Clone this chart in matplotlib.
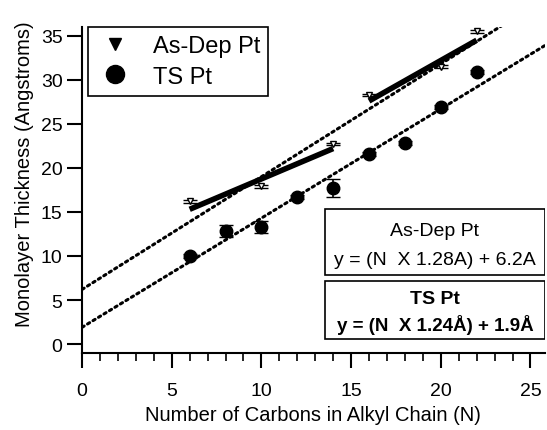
import matplotlib
matplotlib.use("Agg")
import matplotlib.pyplot as plt
from matplotlib.ticker import MultipleLocator
from matplotlib.lines import Line2D
from matplotlib.patches import Rectangle
import numpy as np

plt.rcParams['font.family'] = ['Liberation Sans', 'DejaVu Sans']

# дані з рисунка
n_asdep = [6, 10, 14, 16, 20, 22]
t_asdep = [16.2, 17.9, 22.7, 28.3, 31.5, 35.5]

n_ts = [6, 8, 10, 12, 14, 16, 18, 20, 22]
t_ts = [10.0, 12.8, 13.3, 16.7, 17.7, 21.6, 22.8, 26.9, 30.9]
err_ts = [0.2, 0.7, 0.7, 0.2, 1.0, 0.2, 0.2, 0.2, 0.2]

# товсті відрізки
seg1_n = [6, 14]
seg1_t = [15.3, 22.2]
seg2_n = [16, 22]
seg2_t = [27.6, 34.5]

# лінії апроксимації
fit_asdep = (1.28, 6.2, 23.4)  # нахил, зсув, кінець
fit_ts = (1.24, 1.9, 26.0)

fig = plt.figure(figsize=(5.47, 4.31), dpi=100)
ax = fig.add_axes([0.150, 0.179, 0.846, 0.756])

for k, b, end in (fit_asdep, fit_ts):
    xx = np.array([0, end])
    ax.plot(xx, k * xx + b, color="black", lw=2.2, ls=(0, (0.8, 1.3)),
            dash_capstyle="round", zorder=2)

ax.plot(seg1_n, seg1_t, color="black", lw=4, solid_capstyle="butt", zorder=3)
ax.plot(seg2_n, seg2_t, color="black", lw=4, solid_capstyle="butt", zorder=3)

ax.errorbar(n_asdep, t_asdep, yerr=0.15, fmt="v", color="black", mfc="white",
            mec="black", ms=4, capsize=5, lw=1, zorder=4)
ax.errorbar(n_ts, t_ts, yerr=err_ts, fmt="o", color="black", ms=9,
            capsize=5, lw=1.2, zorder=4)

ax.set_xlim(0, 25.8)
ax.set_ylim(-1, 36)
ax.spines["top"].set_visible(False)
ax.spines["right"].set_visible(False)
ax.spines["left"].set_linewidth(1.5)
ax.spines["bottom"].set_linewidth(1.5)
ax.xaxis.set_major_locator(MultipleLocator(5))
ax.xaxis.set_minor_locator(MultipleLocator(1))
ax.yaxis.set_major_locator(MultipleLocator(5))
ax.tick_params(axis="both", which="major", direction="out", width=1.5, labelsize=14)
ax.tick_params(axis="y", which="major", length=11, pad=3)
ax.tick_params(axis="x", which="major", length=11, pad=10)
ax.tick_params(axis="x", which="minor", direction="out", length=6, width=1.2)

ax.set_xlabel("Number of Carbons in Alkyl Chain (N)", fontsize=14.5, labelpad=4)
ax.set_ylabel("Monolayer Thickness (Angstroms)", fontsize=14.5)
ax.yaxis.set_label_coords(-0.104, 0.55)

h = [Line2D([], [], ls="none", marker="v", color="black", ms=9),
     Line2D([], [], ls="none", marker="o", color="black", ms=13)]
leg = ax.legend(h, ["As-Dep Pt", "TS Pt"], loc="upper left",
                bbox_to_anchor=(0.012, 1.0), borderaxespad=0, fontsize=17,
                frameon=True, fancybox=False, edgecolor="black", framealpha=1,
                handletextpad=0.8, borderpad=0.35, labelspacing=0.35,
                handlelength=1.6)
leg.get_frame().set_linewidth(1.2)

# рамки з рівняннями
ax.add_patch(Rectangle((0.525, 0.239), 0.475, 0.203, transform=ax.transAxes,
                       fc="white", ec="black", lw=1.2, zorder=5))
ax.add_patch(Rectangle((0.525, 0.043), 0.475, 0.178, transform=ax.transAxes,
                       fc="white", ec="black", lw=1.2, zorder=5))
ax.text(0.7625, 0.374, "As-Dep Pt", transform=ax.transAxes, ha="center",
        va="center", fontsize=14, zorder=6)
ax.text(0.7625, 0.288, "y = (N  X 1.28A) + 6.2A", transform=ax.transAxes,
        ha="center", va="center", fontsize=14, zorder=6)
ax.text(0.7625, 0.166, "TS Pt", transform=ax.transAxes, ha="center",
        va="center", fontsize=14, fontweight="bold", zorder=6)
ax.text(0.7625, 0.089, "y = (N  X 1.24Å) + 1.9Å", transform=ax.transAxes,
        ha="center", va="center", fontsize=13.5, fontweight="bold", zorder=6)

fig.savefig("out.png", dpi=100)
